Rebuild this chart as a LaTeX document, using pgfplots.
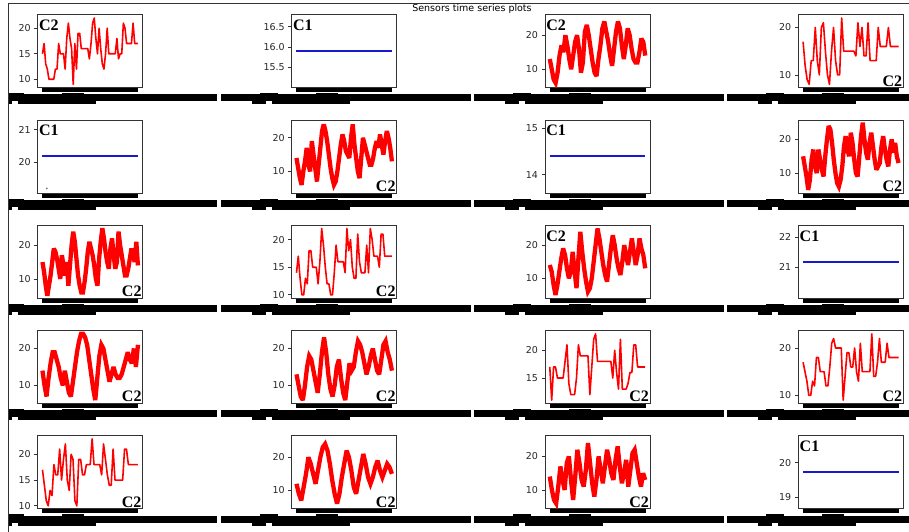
\documentclass[border=0pt]{standalone}
\usepackage{pgfplots}
\pgfplotsset{compat=1.18}
\usepackage{fontspec}
\setmainfont{DejaVu Sans}
\newfontfamily\tagfont{Liberation Serif}
\definecolor{c1blue}{rgb}{0.1,0.1,0.8}

% panel origins (left edges and bottom edges, in pt from the top-left corner)
\def\La{37.7}\def\Lb{291.7}\def\Lc{545}\def\Ld{798.3}
\def\Ba{87.7}\def\Bb{192.95}\def\Bc{298.2}\def\Bd{403.45}\def\Be{508.7}

\pgfplotsset{
  cell/.style={
    scale only axis, width=105pt, height=73pt, anchor=south west,
    enlarge x limits=0.05, xtick=\empty, ytick pos=left,
    tick align=outside, major tick length=3.5pt,
    axis line style={black!80, line width=0.8pt},
    tick style={black!80, line width=0.8pt},
    yticklabel style={font=\fontsize{9.5}{10}\selectfont, text=black!85},
    /pgf/number format/assume math mode=true,
    clip=false,
  },
  seq/.style={/pgfplots/table/x expr=\coordindex, /pgfplots/table/y index=0,
    /pgfplots/table/header=false, /pgfplots/table/row sep=\\},
  stepline/.style={draw=red, color=red, line width=1.6pt, sharp plot, mark=none, line join=round},
  bandline/.style={draw=red, color=red, line width=4.3pt, mark=none, line join=miter, miter limit=3},
  flatline/.style={draw=c1blue, color=c1blue, line width=1.9pt, mark=none},
}
\newcommand{\tagTL}[1]{\node[anchor=base west, inner sep=0pt,
  font=\tagfont\bfseries\fontsize{16}{16}\selectfont]
  at ([xshift=1.2pt,yshift=-16pt]rel axis cs:0,1) {#1};}
\newcommand{\tagBR}[1]{\node[anchor=base east, inner sep=0pt,
  font=\tagfont\bfseries\fontsize{16}{16}\selectfont]
  at ([xshift=-1pt,yshift=1.5pt]rel axis cs:1,0) {#1};}

\begin{document}
\begin{tikzpicture}
\useasboundingbox (0,0) rectangle (909pt,-532pt);

% ---------------- row 1 ----------------
\begin{axis}[cell, at={(\La pt,-\Ba pt)}, ymin=8.35, ymax=22.65, ytick={10,15,20}]
\addplot[stepline] table[seq] {15\\17\\13\\12\\10\\10\\10\\10\\12\\12\\17\\15\\15\\15\\12\\18\\21\\18\\16\\9\\17\\12\\19\\19\\16\\16\\16\\16\\16\\14\\17\\21\\22\\18\\15\\20\\16\\13\\12\\15\\20\\15\\15\\15\\15\\15\\18\\14\\15\\15\\21\\20\\17\\17\\17\\17\\21\\17\\17\\17\\};
\tagTL{C2}
\end{axis}

\begin{axis}[cell, at={(\Lb pt,-\Ba pt)}, ymin=15.0, ymax=16.8, ytick={15.5,16,16.5},
  yticklabel style={/pgf/number format/.cd, fixed, fixed zerofill, precision=1}]
\addplot[flatline] coordinates {(0,15.9) (1,15.9)};
\tagTL{C1}
\end{axis}

\begin{axis}[cell, at={(\Lc pt,-\Ba pt)}, ymin=4.6, ymax=26, ytick={10,20}]
\addplot[bandline] table[seq] {13\\10\\7\\6\\9\\14\\17\\15\\20\\17\\13\\10\\14\\18\\20\\16\\9\\12\\21\\23\\20\\16\\12\\9\\8\\13\\17\\22\\24\\21\\18\\14\\11\\16\\21\\24\\22\\17\\13\\17\\22\\20\\16\\13\\12\\12\\15\\19\\18\\14\\};
\tagTL{C2}
\end{axis}

\begin{axis}[cell, at={(\Ld pt,-\Ba pt)}, ymin=7.3, ymax=22.7, ytick={10,20}]
\addplot[stepline] table[seq] {17\\12\\9\\8\\13\\13\\20\\13\\10\\20\\21\\15\\10\\8\\15\\20\\13\\10\\10\\22\\15\\15\\15\\15\\15\\15\\14\\21\\16\\20\\14\\14\\21\\13\\13\\13\\13\\20\\16\\16\\16\\16\\20\\16\\16\\16\\16\\16\\};
\tagBR{C2}
\end{axis}

% ---------------- row 2 ----------------
\begin{axis}[cell, at={(\La pt,-\Bb pt)}, ymin=19.06, ymax=21.3, ytick={20,21}]
\addplot[flatline] coordinates {(0,20.2) (1,20.2)};
\addplot[only marks, mark=*, mark size=0.6pt, black!60] coordinates {(0.045,19.2)};
\tagTL{C1}
\end{axis}

\begin{axis}[cell, at={(\Lb pt,-\Bb pt)}, ymin=3.6, ymax=25.3, ytick={10,20}]
\addplot[bandline] table[seq] {14\\11\\8\\6\\10\\13\\17\\12\\10\\19\\15\\11\\7\\12\\17\\22\\24\\22\\19\\15\\11\\8\\6\\7\\10\\14\\18\\21\\19\\16\\15\\14\\20\\24\\18\\14\\10\\8\\14\\20\\18\\16\\14\\12\\12\\14\\17\\19\\17\\21\\18\\15\\19\\22\\20\\17\\13\\};
\tagBR{C2}
\end{axis}

\begin{axis}[cell, at={(\Lc pt,-\Bb pt)}, ymin=13.61, ymax=15.18, ytick={14,15}]
\addplot[flatline] coordinates {(0,14.41) (1,14.41)};
\tagTL{C1}
\end{axis}

\begin{axis}[cell, at={(\Ld pt,-\Bb pt)}, ymin=4.1, ymax=25.8, ytick={10,20}]
\addplot[bandline] table[seq] {15\\12\\9\\5\\8\\14\\17\\12\\10\\17\\14\\11\\9\\15\\20\\24\\23\\19\\14\\10\\7\\6\\8\\12\\18\\21\\17\\15\\22\\19\\14\\10\\9\\15\\21\\25\\20\\16\\14\\19\\22\\18\\14\\11\\12\\13\\18\\21\\17\\14\\12\\17\\20\\16\\19\\15\\13\\};
\tagBR{C2}
\end{axis}

% ---------------- row 3 ----------------
\begin{axis}[cell, at={(\La pt,-\Bc pt)}, ymin=4.3, ymax=25.9, ytick={10,20}]
\addplot[bandline] table[seq] {15\\12\\8\\5\\8\\11\\15\\19\\18\\16\\13\\10\\17\\14\\11\\15\\8\\14\\20\\24\\21\\16\\11\\8\\6\\6\\9\\13\\18\\21\\19\\17\\14\\10\\8\\16\\21\\25\\22\\18\\15\\13\\19\\22\\17\\13\\15\\24\\20\\17\\14\\11\\11\\13\\16\\19\\17\\15\\21\\14\\};
\tagBR{C2}
\end{axis}

\begin{axis}[cell, at={(\Lb pt,-\Bc pt)}, ymin=9.4, ymax=22.6, ytick={10,15,20}]
\addplot[stepline] table[seq] {14\\17\\13\\10\\10\\13\\12\\18\\18\\15\\15\\15\\12\\16\\22\\19\\15\\12\\12\\10\\10\\14\\19\\16\\16\\16\\16\\14\\22\\18\\20\\15\\13\\13\\21\\16\\14\\14\\14\\19\\14\\22\\20\\17\\17\\17\\15\\21\\21\\17\\17\\17\\17\\17\\};
\tagBR{C2}
\end{axis}

\begin{axis}[cell, at={(\Lc pt,-\Bc pt)}, ymin=4, ymax=26, ytick={10,20}]
\addplot[bandline] table[seq] {14\\12\\8\\5\\8\\12\\16\\19\\17\\13\\10\\12\\18\\12\\7\\16\\24\\18\\13\\9\\6\\7\\10\\15\\20\\25\\22\\18\\14\\11\\9\\14\\19\\23\\20\\16\\13\\11\\15\\20\\17\\14\\18\\22\\18\\14\\17\\22\\19\\17\\13\\};
\tagTL{C2}
\end{axis}

\begin{axis}[cell, at={(\Ld pt,-\Bc pt)}, ymin=19.97, ymax=22.41, ytick={21,22}]
\addplot[flatline] coordinates {(0,21.19) (1,21.19)};
\tagTL{C1}
\end{axis}

% ---------------- row 4 ----------------
\begin{axis}[cell, at={(\La pt,-\Bd pt)}, ymin=5.1, ymax=24.9, ytick={10,20}]
\addplot[bandline] table[seq] {14\\10\\7\\12\\16\\19\\19\\17\\15\\12\\10\\14\\11\\8\\7\\11\\15\\19\\22\\24\\24\\23\\21\\17\\13\\9\\6\\12\\18\\21\\20\\17\\14\\11\\13\\15\\13\\12\\12\\13\\15\\17\\19\\17\\16\\20\\15\\21\\};
\tagBR{C2}
\end{axis}

\begin{axis}[cell, at={(\Lb pt,-\Bd pt)}, ymin=5.1, ymax=24.9, ytick={10,20}]
\addplot[bandline] table[seq] {13\\10\\7\\6\\10\\15\\18\\17\\14\\11\\8\\13\\19\\23\\19\\13\\9\\7\\10\\15\\17\\12\\8\\6\\11\\16\\14\\15\\19\\22\\21\\19\\16\\13\\15\\18\\20\\17\\14\\13\\17\\21\\22\\19\\17\\14\\};
\tagBR{C2}
\end{axis}

\begin{axis}[cell, at={(\Lc pt,-\Bd pt)}, ymin=10.4, ymax=23.6, ytick={15,20}]
\addplot[stepline] table[seq] {17\\11\\17\\17\\15\\15\\15\\15\\18\\21\\14\\12\\12\\12\\15\\21\\19\\19\\19\\19\\19\\12\\17\\22\\23\\18\\18\\18\\18\\18\\18\\18\\18\\15\\20\\16\\13\\22\\13\\13\\13\\14\\16\\16\\21\\21\\17\\17\\17\\17\\17\\};
\tagBR{C2}
\end{axis}

\begin{axis}[cell, at={(\Ld pt,-\Bd pt)}, ymin=8.3, ymax=23.7, ytick={10,20}]
\addplot[stepline] table[seq] {17\\15\\13\\10\\10\\13\\12\\18\\18\\15\\15\\15\\12\\12\\16\\21\\22\\20\\20\\20\\20\\9\\14\\19\\19\\16\\16\\20\\15\\13\\21\\15\\15\\15\\15\\15\\23\\14\\14\\17\\22\\17\\17\\17\\21\\18\\18\\18\\18\\18\\18\\};
\tagBR{C2}
\end{axis}

% ---------------- row 5 ----------------
\begin{axis}[cell, at={(\La pt,-\Be pt)}, ymin=9.45, ymax=23.6, ytick={10,15,20}]
\addplot[stepline] table[seq] {17\\14\\11\\10\\13\\12\\18\\16\\16\\21\\15\\19\\22\\15\\13\\20\\19\\11\\10\\19\\19\\16\\16\\18\\18\\18\\23\\18\\18\\18\\18\\16\\22\\19\\16\\14\\14\\21\\15\\15\\15\\15\\15\\21\\21\\18\\18\\18\\18\\18\\18\\};
\tagBR{C2}
\end{axis}

\begin{axis}[cell, at={(\Lb pt,-\Be pt)}, ymin=4.5, ymax=26.5, ytick={10,20}]
\addplot[bandline] table[seq] {12\\9\\7\\11\\15\\20\\18\\15\\12\\16\\20\\23\\24\\22\\18\\13\\9\\6\\9\\14\\18\\22\\20\\16\\11\\9\\13\\17\\21\\18\\14\\12\\14\\17\\19\\16\\14\\16\\18\\17\\15\\};
\tagBR{C2}
\end{axis}

\begin{axis}[cell, at={(\Lc pt,-\Be pt)}, ymin=4.4, ymax=26.2, ytick={10,20}]
\addplot[bandline] table[seq] {14\\10\\7\\6\\11\\17\\13\\10\\18\\20\\13\\7\\14\\22\\18\\13\\11\\16\\24\\18\\12\\8\\13\\20\\16\\12\\17\\22\\19\\15\\13\\19\\23\\17\\12\\15\\19\\11\\16\\21\\22\\18\\14\\11\\15\\13\\};
\tagBR{C2}
\end{axis}

\begin{axis}[cell, at={(\Ld pt,-\Be pt)}, ymin=18.66, ymax=20.79, ytick={19,20}]
\addplot[flatline] coordinates {(0,19.72) (1,19.72)};
\tagTL{C1}
\end{axis}

% overlapping date labels under every panel, figure frame and title
\begin{scope}[x=1pt, y=-1pt]
  \clip (8.5,0) rectangle (909,532);
  \foreach \L in {\La,\Lb,\Lc,\Ld}{
    \foreach \B in {\Ba,\Bb,\Bc,\Bd,\Be}{
      \fill[black] (\L+4.5,\B+0.6) rectangle (\L+100.5,\B+4.6);
      \fill[black] (\L-71,\B+6.8) rectangle (\L+179,\B+13.8);
      \fill[black] (\L-40,\B+13) rectangle (\L-26,\B+16.8);
      \fill[black] (\L-20,\B+13) rectangle (\L+58,\B+16.8);
      \fill[black] (\L-32,\B+5.6) rectangle (\L-14,\B+7.2);
      \fill[black] (\L+24,\B+5.6) rectangle (\L+46,\B+7.2);
    }
  }
\end{scope}
\begin{scope}[x=1pt, y=-1pt]
  \draw[black!80, line width=1pt] (8.3,532) -- (8.3,3.3) -- (909,3.3);
  \node[font=\fontsize{9.5}{10}\selectfont, inner sep=0pt, anchor=north] at (472,4.0) {Sensors time series plots};
\end{scope}
\end{tikzpicture}
\end{document}
